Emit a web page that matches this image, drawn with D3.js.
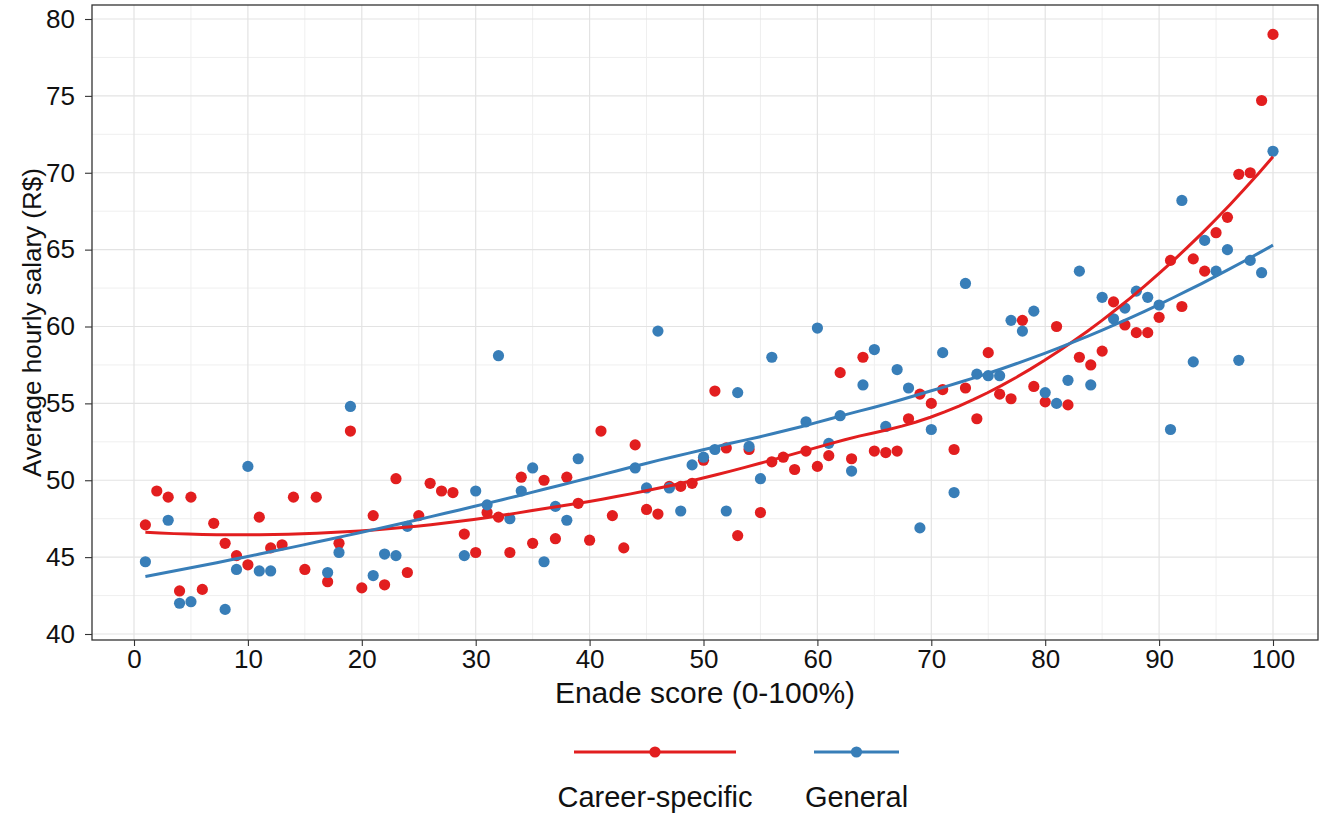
<!DOCTYPE html>
<html>
<head>
<meta charset="utf-8">
<script src="https://cdn.jsdelivr.net/npm/d3@7"></script>
<style>
  html, body { margin: 0; padding: 0; background: #ffffff; }
  svg { display: block; font-family: "Liberation Sans", Arial, sans-serif; }
</style>
</head>
<body>
<svg id="chart" width="1320" height="814"></svg>
<script>
// Enade score (0-100%) vs average hourly salary (R$), by course type
const careerScore = [
  1, 2, 3, 4, 5, 6, 7, 8, 9, 10, 11, 12, 13, 14, 15, 16, 17, 18, 19, 20,
  21, 22, 23, 24, 25, 26, 27, 28, 29, 30, 31, 32, 33, 34, 35, 36, 37, 38, 39, 40,
  41, 42, 43, 44, 45, 46, 47, 48, 49, 50, 51, 52, 53, 54, 55, 56, 57, 58, 59, 60,
  61, 62, 63, 64, 65, 66, 67, 68, 69, 70, 71, 72, 73, 74, 75, 76, 77, 78, 79, 80,
  81, 82, 83, 84, 85, 86, 87, 88, 89, 90, 91, 92, 93, 94, 95, 96, 97, 98, 99, 100
];
const careerSalary = [
  47.1, 49.3, 48.9, 42.8, 48.9, 42.9, 47.2, 45.9, 45.1, 44.5,
  47.6, 45.6, 45.8, 48.9, 44.2, 48.9, 43.4, 45.9, 53.2, 43.0,
  47.7, 43.2, 50.1, 44.0, 47.7, 49.8, 49.3, 49.2, 46.5, 45.3,
  47.9, 47.6, 45.3, 50.2, 45.9, 50.0, 46.2, 50.2, 48.5, 46.1,
  53.2, 47.7, 45.6, 52.3, 48.1, 47.8, 49.6, 49.6, 49.8, 51.3,
  55.8, 52.1, 46.4, 52.0, 47.9, 51.2, 51.5, 50.7, 51.9, 50.9,
  51.6, 57.0, 51.4, 58.0, 51.9, 51.8, 51.9, 54.0, 55.6, 55.0,
  55.9, 52.0, 56.0, 54.0, 58.3, 55.6, 55.3, 60.4, 56.1, 55.1,
  60.0, 54.9, 58.0, 57.5, 58.4, 61.6, 60.1, 59.6, 59.6, 60.6,
  64.3, 61.3, 64.4, 63.6, 66.1, 67.1, 69.9, 70.0, 74.7, 79.0
];

const generalScore = [
  1, 3, 4, 5, 8, 9, 10, 11, 12, 17, 18, 19, 21, 22, 23, 24,
  29, 30, 31, 32, 33, 34, 35, 36, 37, 38, 39, 44, 45, 46, 47, 48, 49, 50,
  51, 52, 53, 54, 55, 56, 59, 60, 61, 62, 63, 64, 65, 66, 67, 68, 69, 70,
  71, 72, 73, 74, 75, 76, 77, 78, 79, 80, 81, 82, 83, 84, 85, 86, 87, 88, 89, 90,
  91, 92, 93, 94, 95, 96, 97, 98, 99, 100
];
const generalSalary = [
  44.7, 47.4, 42.0, 42.1, 41.6, 44.2, 50.9, 44.1, 44.1, 44.0, 45.3, 54.8, 43.8, 45.2, 45.1, 47.0,
  45.1, 49.3, 48.4, 58.1, 47.5, 49.3, 50.8, 44.7, 48.3, 47.4, 51.4, 50.8, 49.5, 59.7, 49.5, 48.0, 51.0, 51.5,
  52.0, 48.0, 55.7, 52.2, 50.1, 58.0, 53.8, 59.9, 52.4, 54.2, 50.6, 56.2, 58.5, 53.5, 57.2, 56.0, 46.9, 53.3,
  58.3, 49.2, 62.8, 56.9, 56.8, 56.8, 60.4, 59.7, 61.0, 55.7, 55.0, 56.5, 63.6, 56.2, 61.9, 60.5, 61.2, 62.3, 61.9, 61.4,
  53.3, 68.2, 57.7, 65.6, 63.6, 65.0, 57.8, 64.3, 63.5, 71.4
];

const seriesNames = ["Career-specific", "General"];
const seriesColors = ["#E21E1F", "#387EB8"];

const xTicks = [0, 10, 20, 30, 40, 50, 60, 70, 80, 90, 100];
const xMinor = [5, 15, 25, 35, 45, 55, 65, 75, 85, 95];
const yTicks = [40, 45, 50, 55, 60, 65, 70, 75, 80];
const yMinor = [42.5, 47.5, 52.5, 57.5, 62.5, 67.5, 72.5, 77.5];

const xTitle = "Enade score (0-100%)";
const yTitle = "Average hourly salary (R$)";

// Local quadratic regression (loess, tricube weights), as used by geom_smooth
function loess(xs, ys, span, evalX) {
  const n = xs.length;
  const q = Math.floor(n * span);
  return evalX.map(x0 => {
    const d = xs.map(x => Math.abs(x - x0));
    const h = d.slice().sort((a, b) => a - b)[q - 1];
    let S = [0, 0, 0, 0, 0], T = [0, 0, 0];
    for (let i = 0; i < n; i++) {
      const u = d[i] / h;
      if (u >= 1) continue;
      const w = Math.pow(1 - u * u * u, 3);
      const t = xs[i] - x0;
      let tk = 1;
      for (let k = 0; k < 5; k++) { S[k] += w * tk; if (k < 3) T[k] += w * tk * ys[i]; tk *= t; }
    }
    const A = [[S[0], S[1], S[2]], [S[1], S[2], S[3]], [S[2], S[3], S[4]]];
    const b = T.slice();
    // Gaussian elimination
    for (let c = 0; c < 3; c++) {
      let p = c;
      for (let r = c + 1; r < 3; r++) if (Math.abs(A[r][c]) > Math.abs(A[p][c])) p = r;
      [A[c], A[p]] = [A[p], A[c]]; [b[c], b[p]] = [b[p], b[c]];
      for (let r = c + 1; r < 3; r++) {
        const f = A[r][c] / A[c][c];
        for (let k = c; k < 3; k++) A[r][k] -= f * A[c][k];
        b[r] -= f * b[c];
      }
    }
    const beta = [0, 0, 0];
    for (let r = 2; r >= 0; r--) {
      let s = b[r];
      for (let k = r + 1; k < 3; k++) s -= A[r][k] * beta[k];
      beta[r] = s / A[r][r];
    }
    return [x0, beta[0]];
  });
}

const svg = d3.select("#chart");
const panel = { left: 92, right: 1318, top: 5, bottom: 640 };

const x = d3.scaleLinear().domain([0, 100]).range([134, 1273]);
const y = d3.scaleLinear().domain([40, 80]).range([634, 19]);

// grid
const grid = svg.append("g");
grid.selectAll(".xminor").data(xMinor).join("line")
  .attr("x1", d => x(d)).attr("x2", d => x(d))
  .attr("y1", panel.top).attr("y2", panel.bottom)
  .attr("stroke", "#efefef").attr("stroke-width", 1);
grid.selectAll(".yminor").data(yMinor).join("line")
  .attr("x1", panel.left).attr("x2", panel.right)
  .attr("y1", d => y(d)).attr("y2", d => y(d))
  .attr("stroke", "#efefef").attr("stroke-width", 1);
grid.selectAll(".xmajor").data(xTicks).join("line")
  .attr("x1", d => x(d)).attr("x2", d => x(d))
  .attr("y1", panel.top).attr("y2", panel.bottom)
  .attr("stroke", "#e3e3e3").attr("stroke-width", 1.2);
grid.selectAll(".ymajor").data(yTicks).join("line")
  .attr("x1", panel.left).attr("x2", panel.right)
  .attr("y1", d => y(d)).attr("y2", d => y(d))
  .attr("stroke", "#e3e3e3").attr("stroke-width", 1.2);

// axes
const xAxis = svg.append("g")
  .attr("transform", `translate(0,${panel.bottom})`)
  .call(d3.axisBottom(x).tickValues(xTicks).tickSize(6).tickPadding(4));
const yAxis = svg.append("g")
  .attr("transform", `translate(${panel.left},0)`)
  .call(d3.axisLeft(y).tickValues(yTicks).tickSize(7).tickPadding(10));
[xAxis, yAxis].forEach(g => {
  g.select(".domain").remove();
  g.selectAll(".tick line").attr("stroke", "#333").attr("stroke-width", 1.1);
  g.selectAll(".tick text").attr("fill", "#111")
    .style("font-size", "26px").style("font-family", "Liberation Sans, Arial, sans-serif");
});

// points
const series = [
  { name: seriesNames[0], color: seriesColors[0], xs: careerScore, ys: careerSalary },
  { name: seriesNames[1], color: seriesColors[1], xs: generalScore, ys: generalSalary }
];
series.forEach(s => {
  svg.append("g").selectAll("circle")
    .data(s.xs.map((v, i) => [v, s.ys[i]]))
    .join("circle")
    .attr("cx", d => x(d[0])).attr("cy", d => y(d[1]))
    .attr("r", 5.6).attr("fill", s.color);
});

// smoothers
const line = d3.line().x(d => x(d[0])).y(d => y(d[1]));
series.forEach(s => {
  const lo = d3.min(s.xs), hi = d3.max(s.xs);
  const grid80 = d3.range(80).map(i => lo + (hi - lo) * i / 79);
  const fit = loess(s.xs, s.ys, 0.75, grid80);
  svg.append("path").datum(fit)
    .attr("d", line).attr("fill", "none")
    .attr("stroke", s.color).attr("stroke-width", 3);
});

// panel border
svg.append("rect")
  .attr("x", panel.left).attr("y", panel.top)
  .attr("width", panel.right - panel.left).attr("height", panel.bottom - panel.top)
  .attr("fill", "none").attr("stroke", "#333").attr("stroke-width", 1.3);

// axis titles
svg.append("text")
  .attr("x", (panel.left + panel.right) / 2).attr("y", 703)
  .attr("text-anchor", "middle").attr("fill", "#111")
  .style("font-size", "30px").text(xTitle);
svg.append("text")
  .attr("transform", `translate(41,${(panel.top + panel.bottom) / 2}) rotate(-90)`)
  .attr("text-anchor", "middle").attr("fill", "#111")
  .style("font-size", "26px").text(yTitle);

// legend
const legendItems = [
  { x1: 574, x2: 736, cx: 655 },
  { x1: 814, x2: 899, cx: 856.5 }
];
series.forEach((s, i) => {
  const L = legendItems[i];
  const g = svg.append("g");
  g.append("line").attr("x1", L.x1).attr("x2", L.x2).attr("y1", 752).attr("y2", 752)
    .attr("stroke", s.color).attr("stroke-width", 3);
  g.append("circle").attr("cx", L.cx).attr("cy", 752).attr("r", 5.6).attr("fill", s.color);
  g.append("text").attr("x", L.cx).attr("y", 807).attr("text-anchor", "middle")
    .attr("fill", "#111").style("font-size", "29px").text(s.name);
});
</script>
</body>
</html>
